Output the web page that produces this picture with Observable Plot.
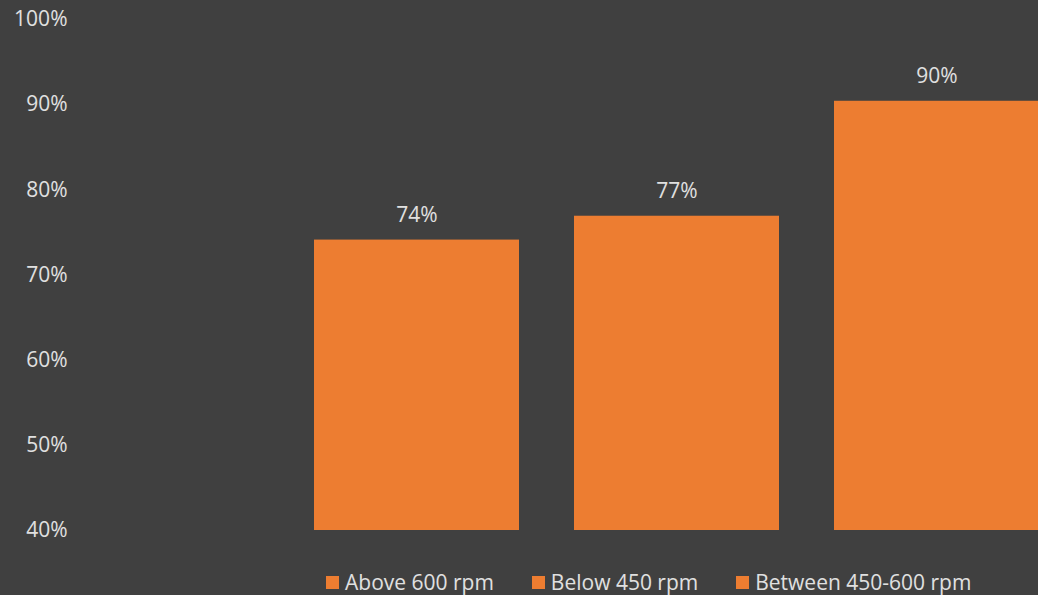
<!DOCTYPE html>
<html>
<head>
<meta charset="utf-8">
<script src="https://cdn.jsdelivr.net/npm/d3@7"></script>
<script src="https://cdn.jsdelivr.net/npm/@observablehq/plot@0.6"></script>
<style>
  html, body { margin: 0; padding: 0; background: #404040; overflow: hidden; }
  body { width: 1038px; height: 595px; font-family: "Open Sans", sans-serif; }
  #legend { display: flex; align-items: center; padding-left: 326px; padding-top: 9px; height: 26px; line-height: 24px; color: #e0e0e0; font-size: 21px; box-sizing: content-box; }
  .item { display: flex; align-items: center; margin-right: 38px; }
  .sw { width: 13px; height: 13px; background: #ED7D31; margin-right: 6px; }
</style>
</head>
<body>
<div id="chart"></div>
<div id="legend"></div>
<script>
const categories = ["Above 600 rpm", "Below 450 rpm", "Between 450-600 rpm"];
const values = [74.1, 76.9, 90.4];
const yTicks = [40, 50, 60, 70, 80, 90, 100];
const barColor = "#ED7D31";
const textColor = "#e0e0e0";

const data = categories.map((c, i) => ({category: c, value: values[i]}));
const yMin = yTicks[0];

const chart = Plot.plot({
  width: 1038,
  height: 560,
  marginTop: 19,
  marginBottom: 30,
  marginLeft: 70,
  marginRight: 0,
  style: {background: "#404040", color: textColor, fontSize: "21px", fontFamily: "'Open Sans', sans-serif", display: "block"},
  x: {domain: categories, range: [259, 1094], padding: 55 / 260, axis: null},
  y: {domain: [yTicks[0], yTicks[yTicks.length - 1]], ticks: yTicks, tickFormat: d => d + "%", tickSize: 0, tickPadding: 3, label: null},
  marks: [
    Plot.barY(data, {x: "category", y1: () => yMin, y2: "value", fill: barColor}),
    Plot.text(data, {x: "category", y: "value", text: d => Math.round(d.value) + "%", dy: -25, fill: textColor, fontSize: 21})
  ]
});
document.getElementById("chart").appendChild(chart);

const legend = document.getElementById("legend");
categories.forEach(c => {
  const it = document.createElement("div");
  it.className = "item";
  it.innerHTML = '<div class="sw"></div><span>' + c + '</span>';
  legend.appendChild(it);
});
</script>
</body>
</html>
